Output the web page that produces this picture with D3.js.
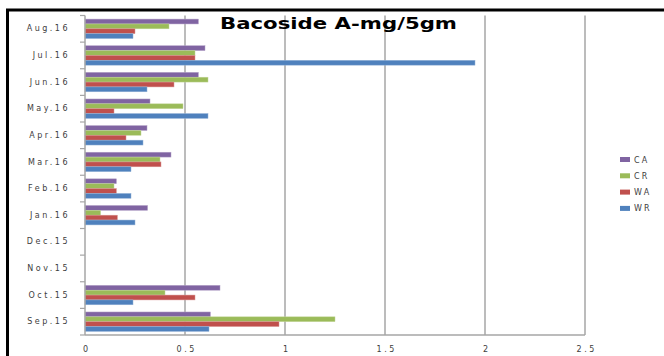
<!DOCTYPE html>
<html>
<head>
<meta charset="utf-8">
<script src="https://cdn.jsdelivr.net/npm/d3@7"></script>
<style>
  body { margin: 0; background: #fff; }
  .tick text { font-family: "DejaVu Sans", sans-serif; font-size: 8px; fill: #404040; letter-spacing: 2.5px; }
</style>
</head>
<body>
<div id="chart"></div>
<script>
// months, bottom to top
var months = ["Sep.15", "Oct.15", "Nov.15", "Dec.15", "Jan.16", "Feb.16", "Mar.16", "Apr.16", "May.16", "Jun.16", "Jul.16", "Aug.16"];
var seriesNames = ["CA", "CR", "WA", "WR"];
var seriesColors = ["#8064A2", "#9BBB59", "#C0504D", "#4F81BD"];
var edgeColors = ["#b3a2c7", "#c3d69b", "#d99694", "#95b3d7"];

var CA = [0.627, 0.675, null, null, 0.313, 0.157, 0.43, 0.31, 0.325, 0.567, 0.60, 0.567];
var CR = [1.25, 0.40, null, null, 0.078, 0.145, 0.375, 0.28, 0.49, 0.615, 0.55, 0.42];
var WA = [0.97, 0.55, null, null, 0.162, 0.157, 0.38, 0.205, 0.145, 0.445, 0.55, 0.25];
var WR = [0.62, 0.24, null, null, 0.25, 0.23, 0.23, 0.29, 0.615, 0.31, 1.95, 0.24];
var xTicks = [0, 0.5, 1, 1.5, 2, 2.5];

var W = 664, H = 356;
var plot = { left: 85, right: 585, top: 15.5, bottom: 335 };

var svg = d3.select("#chart").append("svg")
  .attr("width", W)
  .attr("height", H);

// outer frame (only top and left edges visible)
svg.append("line").attr("x1", 6).attr("x2", W).attr("y1", 10).attr("y2", 10)
  .style("stroke", "#000").style("stroke-width", 3);
svg.append("line").attr("x1", 7.5).attr("x2", 7.5).attr("y1", 9).attr("y2", H)
  .style("stroke", "#000").style("stroke-width", 3);

var xScale = d3.scaleLinear().domain([0, 2.5]).range([plot.left, plot.right]);
var yScale = d3.scaleBand().domain(months).range([plot.bottom, plot.top]).paddingInner(0.27).paddingOuter(0.135);
var yInner = d3.scaleBand().domain(seriesNames).range([0, yScale.bandwidth()]);

// gridlines
svg.append("g").selectAll("line")
  .data(xTicks.slice(1))
  .join("line")
  .attr("x1", d => xScale(d))
  .attr("x2", d => xScale(d))
  .attr("y1", plot.top)
  .attr("y2", plot.bottom)
  .style("stroke", "#a6a6a6")
  .style("stroke-width", 1.5);

var data = [CA, CR, WA, WR];
var bars = svg.append("g");
seriesNames.forEach(function(name, s) {
  bars.append("g").selectAll("rect")
    .data(months.map((m, i) => ({ m: m, v: data[s][i] })).filter(d => d.v != null))
    .join("rect")
    .attr("x", xScale(0))
    .attr("y", d => yScale(d.m) + yInner(name))
    .attr("width", d => xScale(d.v) - xScale(0))
    .attr("height", yInner.bandwidth())
    .style("fill", seriesColors[s])
    .style("stroke", edgeColors[s])
    .style("stroke-width", 0.5);
});

// category axis
var y_axis = d3.axisLeft(yScale).tickSize(0).tickPadding(15);
var yg = svg.append("g").attr("transform", "translate(" + plot.left + ",0)").call(y_axis);
yg.select(".domain").remove();
var bounds = d3.range(months.length + 1).map(i => plot.bottom - i * (plot.bottom - plot.top) / months.length);
svg.append("g").selectAll("line")
  .data(bounds)
  .join("line")
  .attr("x1", plot.left - 5)
  .attr("x2", plot.left)
  .attr("y1", d => d)
  .attr("y2", d => d)
  .style("stroke", "#a6a6a6")
  .style("stroke-width", 1.2);
svg.append("line")
  .attr("x1", plot.left).attr("x2", plot.left)
  .attr("y1", plot.top).attr("y2", plot.bottom)
  .style("stroke", "#a6a6a6").style("stroke-width", 1.5);

// value axis
var x_axis = d3.axisBottom(xScale).tickValues(xTicks).tickSize(0).tickPadding(11)
  .tickFormat(d => d);
var xg = svg.append("g").attr("transform", "translate(0," + plot.bottom + ")").call(x_axis);
xg.select(".domain").remove();
xg.selectAll(".tick text").attr("dx", 1.2);
svg.append("line")
  .attr("x1", plot.left).attr("x2", plot.right)
  .attr("y1", plot.bottom).attr("y2", plot.bottom)
  .style("stroke", "#a6a6a6").style("stroke-width", 1.5);

// title
svg.append("text")
  .attr("x", 220)
  .attr("y", 28.5)
  .attr("textLength", 237)
  .attr("lengthAdjust", "spacingAndGlyphs")
  .style("font-family", "'DejaVu Sans', sans-serif")
  .style("font-weight", "bold")
  .style("font-size", "15px")
  .style("fill", "#000")
  .text("Bacoside A-mg/5gm");

// legend
var legend = svg.append("g").selectAll("g")
  .data(seriesNames)
  .join("g")
  .attr("transform", (d, i) => "translate(620," + (157 + i * 16.3) + ")");
legend.append("rect")
  .attr("width", 10).attr("height", 5)
  .style("fill", (d, i) => seriesColors[i]);
legend.append("text")
  .attr("x", 14).attr("y", 5.5)
  .style("font-family", "'DejaVu Sans', sans-serif")
  .style("font-size", "8px")
  .style("letter-spacing", "2.2px")
  .style("fill", "#404040")
  .text(d => d);
</script>
</body>
</html>
